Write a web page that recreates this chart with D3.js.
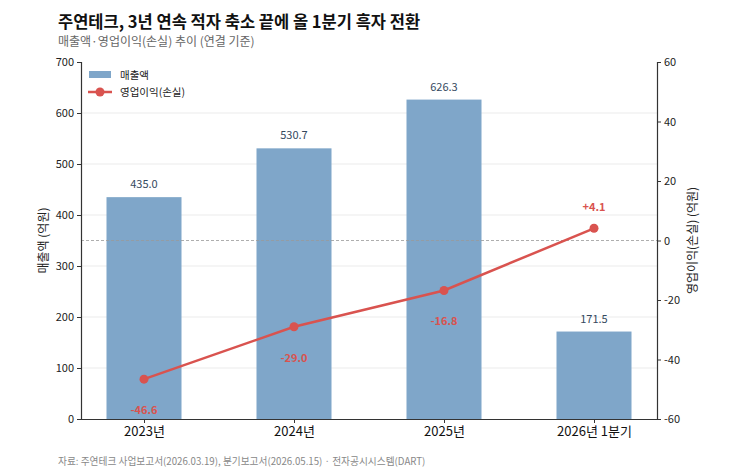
<!DOCTYPE html>
<html><head><meta charset="utf-8">
<script src="https://cdn.jsdelivr.net/npm/d3@7"></script>
<style>
body{margin:0;background:#fff;}
svg{display:block;font-family:"Noto Sans CJK KR","Noto Sans",sans-serif;}
</style></head><body>
<svg id="c" width="730" height="476"></svg>
<script>
const categories = ["2023년","2024년","2025년","2026년 1분기"];
const revenue = [435.0, 530.7, 626.3, 171.5];
const opIncome = [-46.6, -29.0, -16.8, 4.1];
const leftTicks = [0,100,200,300,400,500,600,700];
const rightTicks = [-60,-40,-20,0,20,40,60];

const svg = d3.select("#c");
const L=81, R=657, T=62, B=419;
const x = d3.scaleLinear().domain([-0.42, 3.42]).range([L,R]);
const yL = d3.scaleLinear().domain([0,700]).range([B,T]);
const yR = d3.scaleLinear().domain([-60,60]).range([B,T]);
const barW = x(0.5)-x(0);

// grid
svg.append("g").selectAll("line").data(leftTicks.slice(1,-1)).join("line")
  .attr("x1",L).attr("x2",R).attr("y1",d=>yL(d)).attr("y2",d=>yL(d))
  .attr("stroke","#ebebeb").attr("stroke-width",1);

// bars
svg.append("g").selectAll("rect").data(revenue).join("rect")
  .attr("x",(d,i)=>x(i)-barW/2).attr("width",barW)
  .attr("y",d=>yL(d)).attr("height",d=>B-yL(d))
  .attr("fill","#7fa6c9");
svg.append("g").selectAll("text").data(revenue).join("text")
  .attr("x",(d,i)=>x(i)).attr("y",d=>yL(d)-9)
  .attr("text-anchor","middle").attr("font-size",11).attr("fill","#34495e")
  .text(d=>d.toFixed(1));

// zero line
svg.append("line").attr("x1",L).attr("x2",R).attr("y1",yR(0)).attr("y2",yR(0))
  .attr("stroke","#999").attr("stroke-width",0.8).attr("stroke-dasharray","3,2");

// line
const line = d3.line().x((d,i)=>x(i)).y(d=>yR(d));
svg.append("path").datum(opIncome).attr("d",line).attr("fill","none")
  .attr("stroke","#d9534f").attr("stroke-width",2.5);
svg.append("g").selectAll("circle").data(opIncome).join("circle")
  .attr("cx",(d,i)=>x(i)).attr("cy",d=>yR(d)).attr("r",4.5).attr("fill","#d9534f");
svg.append("g").selectAll("text").data(opIncome).join("text")
  .attr("x",(d,i)=>x(i)).attr("y",d=>d<0? yR(d)+35 : yR(d)-17)
  .attr("text-anchor","middle").attr("font-size",11).attr("font-weight","bold").attr("fill","#d9534f")
  .text(d=>(d>0?"+":"")+d.toFixed(1));

// axes
const axL = svg.append("g").attr("transform",`translate(${L},0)`)
  .call(d3.axisLeft(yL).tickValues(leftTicks).tickFormat(d=>String(d)).tickSize(4).tickPadding(3));
const axR = svg.append("g").attr("transform",`translate(${R},0)`)
  .call(d3.axisRight(yR).tickValues(rightTicks).tickFormat(d=>String(d)).tickSize(4).tickPadding(3));
const axB = svg.append("g").attr("transform",`translate(0,${B})`)
  .call(d3.axisBottom(x).tickValues([0,1,2,3]).tickFormat(i=>categories[i]).tickSize(4).tickPadding(4));
axB.select(".domain").attr("d",`M${L},0.5H${R}`);
[axL,axR,axB].forEach(a=>{
  a.selectAll(".domain").attr("stroke","#333").attr("stroke-width",1.2);
  a.selectAll(".tick line").attr("stroke","#333");
  a.selectAll("text").attr("font-family",'"Noto Sans CJK KR","Noto Sans",sans-serif').attr("fill","#222");
});
axL.selectAll("text").attr("font-size",11);
axR.selectAll("text").attr("font-size",11);
axB.selectAll("text").attr("font-size",13).attr("fill","#111");

// axis titles
svg.append("text").attr("transform",`translate(48,${(T+B)/2}) rotate(-90)`)
  .attr("text-anchor","middle").attr("font-size",12).attr("fill","#222").text("매출액 (억원)");
svg.append("text").attr("transform",`translate(697,${(T+B)/2}) rotate(-90)`)
  .attr("text-anchor","middle").attr("font-size",12).attr("fill","#222").text("영업이익(손실) (억원)");

// legend
const lg = svg.append("g");
lg.append("rect").attr("x",89).attr("y",71).attr("width",22).attr("height",7).attr("fill","#7fa6c9");
lg.append("text").attr("x",120).attr("y",79).attr("font-size",10.5).attr("fill","#222").text("매출액");
lg.append("line").attr("x1",88).attr("x2",112).attr("y1",92).attr("y2",92).attr("stroke","#d9534f").attr("stroke-width",2.5);
lg.append("circle").attr("cx",100).attr("cy",92).attr("r",4.5).attr("fill","#d9534f");
lg.append("text").attr("x",120).attr("y",96).attr("font-size",10.5).attr("fill","#222").text("영업이익(손실)");

// titles
svg.append("text").attr("x",58).attr("y",28).attr("font-size",16.5).attr("font-weight","bold").attr("fill","#111")
  .text("주연테크, 3년 연속 적자 축소 끝에 올 1분기 흑자 전환");
svg.append("text").attr("x",58).attr("y",46).attr("font-size",12).attr("fill","#666")
  .text("매출액·영업이익(손실) 추이 (연결 기준)");
svg.append("text").attr("x",58).attr("y",465).attr("font-size",9.7).attr("fill","#888")
  .text("자료: 주연테크 사업보고서(2026.03.19), 분기보고서(2026.05.15) · 전자공시시스템(DART)");
</script></body></html>
